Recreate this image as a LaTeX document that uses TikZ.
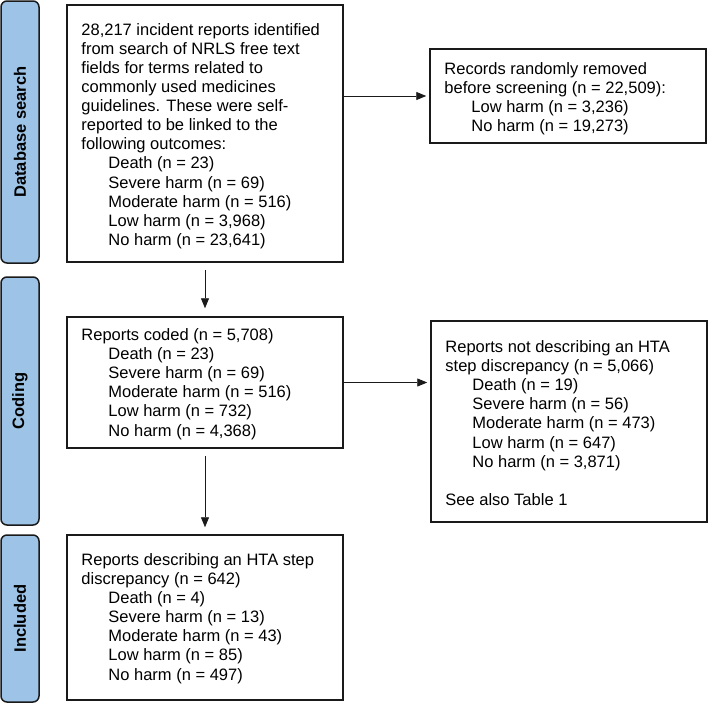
\documentclass[tikz,border=0pt]{standalone}
\usepackage{fontspec}
\setmainfont{Liberation Sans}
\usetikzlibrary{arrows.meta,calc}
\definecolor{barblue}{HTML}{9DC3E6}
\definecolor{lineblk}{HTML}{1A1A1A}
\begin{document}
\begin{tikzpicture}[x=1pt,y=-1pt,
  bar/.style={draw=lineblk,fill=barblue,line width=1.5pt,rounded corners=6pt,inner sep=0pt},
  barlabel/.style={rotate=90,font=\fontsize{16.5}{19}\selectfont\bfseries},
  box/.style={draw=lineblk,line width=1.5pt,inner sep=0pt},
  txt/.style={align=left,inner sep=0pt,font=\fontsize{16.5}{19.1}\selectfont},
  arr/.style={-{Triangle[width=8pt,length=10pt]},line width=0.9pt,draw=lineblk}]
\useasboundingbox (0,0) rectangle (708,704);
% side bars
\node[bar,minimum width=38pt,minimum height=262pt] (bar1) at (20,132) {};
\node[barlabel] (bl1) at (bar1.center) {Database search};
\node[bar,minimum width=38pt,minimum height=248pt] (bar2) at (20,401) {};
\node[barlabel] (bl2) at (bar2.center) {Coding};
\node[bar,minimum width=38pt,minimum height=167pt] (bar3) at (20,618.5) {};
\node[barlabel] (bl3) at (bar3.center) {Included};
% boxes
\node[box,minimum width=276pt,minimum height=257pt] (b1) at (205,133.5) {};
\node[txt,anchor=west] (t1) at ([xshift=15pt,yshift=-2.5pt]b1.west) {28,217 incident reports identified\\from search of NRLS free text\\fields for terms related to\\commonly used medicines\\guidelines. These were self-\\reported to be linked to the\\following outcomes:\\\hspace*{27pt}Death (n = 23)\\\hspace*{27pt}Severe harm (n = 69)\\\hspace*{27pt}Moderate harm (n = 516)\\\hspace*{27pt}Low harm (n = 3,968)\\\hspace*{27pt}No harm (n = 23,641)};
\node[box,minimum width=276pt,minimum height=131pt] (b2) at (205,382.5) {};
\node[txt,anchor=west] (t2) at ([xshift=15pt,yshift=-1.5pt]b2.west) {Reports coded (n = 5,708)\\\hspace*{27pt}Death (n = 23)\\\hspace*{27pt}Severe harm (n = 69)\\\hspace*{27pt}Moderate harm (n = 516)\\\hspace*{27pt}Low harm (n = 732)\\\hspace*{27pt}No harm (n = 4,368)};
\node[box,minimum width=276pt,minimum height=165pt] (b3) at (205,617.5) {};
\node[txt,anchor=west] (t3) at ([xshift=15pt,yshift=-1pt]b3.west) {Reports describing an HTA step\\discrepancy (n = 642)\\\hspace*{27pt}Death (n = 4)\\\hspace*{27pt}Severe harm (n = 13)\\\hspace*{27pt}Moderate harm (n = 43)\\\hspace*{27pt}Low harm (n = 85)\\\hspace*{27pt}No harm (n = 497)};
\node[box,minimum width=276pt,minimum height=94pt] (r1) at (568,96) {};
\node[txt,anchor=west] (rt1) at ([xshift=15pt,yshift=-2.5pt]r1.west) {Records randomly removed\\before screening (n = 22,509):\\\hspace*{27pt}Low harm (n = 3,236)\\\hspace*{27pt}No harm (n = 19,273)};
\node[box,minimum width=276pt,minimum height=201pt] (r2) at (569,421.5) {};
\node[txt,anchor=west] (rt2) at ([xshift=15pt,yshift=-1.5pt]r2.west) {Reports not describing an HTA\\step discrepancy (n = 5,066)\\\hspace*{27pt}Death (n = 19)\\\hspace*{27pt}Severe harm (n = 56)\\\hspace*{27pt}Moderate harm (n = 473)\\\hspace*{27pt}Low harm (n = 647)\\\hspace*{27pt}No harm (n = 3,871)\\[19.1pt]See also Table 1};
% arrows
\draw[arr,shorten <=7pt,shorten >=8pt] (b1.south) -- (b2.north);
\draw[arr,shorten <=7pt,shorten >=7pt] (b2.south) -- (b3.north);
\draw[arr,shorten >=3pt] (r1.west -| b1.east) -- (r1.west);
\draw[arr,shorten >=3pt] (b2.east) -- (b2.east -| r2.west);
\end{tikzpicture}
\end{document}
